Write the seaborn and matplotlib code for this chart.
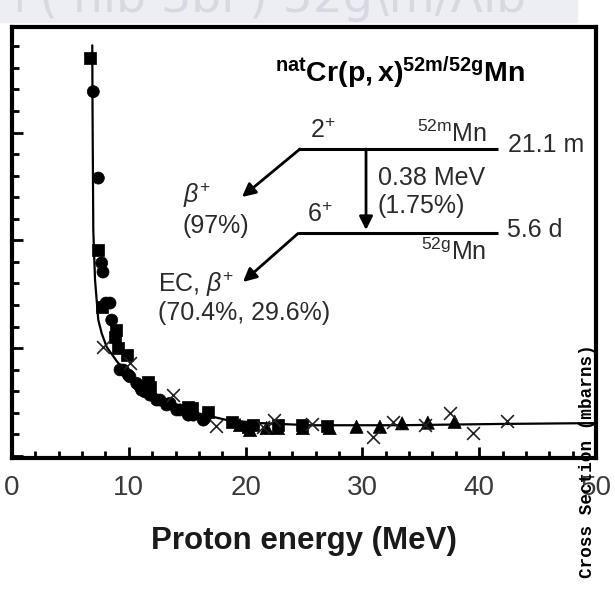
import numpy as np
import pandas as pd
import matplotlib
matplotlib.use("Agg")
import matplotlib.pyplot as plt
import seaborn as sns
from matplotlib.patches import Rectangle

# ---------------- data ----------------
sq_E = [6.68, 7.39, 7.68, 8.82, 8.9, 9.1, 9.82, 11.67, 11.82, 15.09, 15.4, 16.8,
        18.81, 20.2, 20.66, 22.8, 24.8, 26.94]
sq_y = [18.46, 9.55, 6.9, 5.53, 5.84, 4.99, 4.68, 3.44, 3.21, 2.28, 2.2, 2.05,
        1.58, 1.35, 1.43, 1.43, 1.43, 1.38]

ci_E = [6.96, 7.39, 7.68, 7.79, 8.05, 8.39, 8.54, 9.25, 9.53, 9.96, 10.1, 10.68,
        10.96, 11.1, 11.39, 11.82, 12.39, 12.67, 13.24, 13.53, 14.1, 14.38, 15.1,
        15.52, 16.38, 16.52]
ci_y = [16.9, 12.89, 8.95, 8.53, 7.09, 7.09, 6.3, 3.99, 3.98, 3.75, 3.67, 3.36,
        3.21, 3.05, 2.97, 2.82, 2.59, 2.59, 2.36, 2.44, 2.13, 2.13, 1.89,
        1.89, 1.66, 1.74]

tr_E = [19.52, 20.38, 21.8, 22.77, 24.9, 27.2, 29.5, 31.5, 33.4, 35.6, 37.9]
tr_y = [1.43, 1.2, 1.29, 1.29, 1.29, 1.29, 1.35, 1.35, 1.51, 1.54, 1.58]

x_E = [7.75, 10.1, 13.81, 17.45, 21.5, 22.4, 25.66, 30.93, 32.65, 35.36, 37.5,
       39.5, 42.35]
x_y = [5.06, 4.29, 2.82, 1.4, 1.35, 1.66, 1.48, 0.89, 1.58, 1.43, 1.97, 1.04, 1.63]

fit_E = [6.875, 6.89, 6.96, 7.11, 7.39, 7.68, 8.11, 9.08, 10.68, 12.67, 15.5,
         18.4, 21.23, 25.5, 33.2, 41.8, 50]
fit_y = [19.05, 16.51, 10.48, 8.15, 6.3, 5.68, 5.05, 4.31, 3.52, 2.73, 2.03,
         1.66, 1.52, 1.42, 1.42, 1.48, 1.52]

x_ticks = [0, 10, 20, 30, 40, 50]
x_ticklabels = ["0", "10", "20", "30", "40", "50"]

# ---------------- style ----------------
sns.set_style("ticks")
plt.rcParams["font.family"] = ["Liberation Sans", "DejaVu Sans"]
plt.rcParams["mathtext.fontset"] = "custom"
plt.rcParams["mathtext.rm"] = "Liberation Sans"
plt.rcParams["mathtext.it"] = "Liberation Sans:italic"
plt.rcParams["mathtext.bf"] = "Liberation Sans:bold"

TXT = "#2b2b2b"

fig = plt.figure(figsize=(6.15, 5.91), dpi=100)
fig.patch.set_facecolor("white")
ax = fig.add_axes([12 / 615, 1 - 458 / 591, 584 / 615, 431 / 591])

filled = pd.DataFrame({
    "E": sq_E + ci_E + tr_E,
    "sigma": sq_y + ci_y + tr_y,
    "set": ["sq"] * len(sq_E) + ["ci"] * len(ci_E) + ["tr"] * len(tr_E),
})
sizes = {"sq": 75, "ci": 75, "tr": 90}
sns.lineplot(x=fit_E, y=fit_y, sort=False, color="black", lw=1.6, ax=ax, zorder=2)
sns.scatterplot(data=filled, x="E", y="sigma", style="set",
                markers={"sq": "s", "ci": "o", "tr": "^"},
                size="set", sizes=sizes, color="black", edgecolor="black",
                linewidth=0.5, legend=False, ax=ax, zorder=3)
sns.scatterplot(x=x_E, y=x_y, marker="x", s=85, color="#222222", linewidth=1.2,
                legend=False, ax=ax, zorder=3)

ax.set_xlim(0, 50)
ax.set_ylim(-0.1, 19.9)
ax.set_xticks(x_ticks)
ax.set_xticklabels(x_ticklabels)
ax.set_xticks(np.arange(0, 51, 2), minor=True)
ax.set_yticks(np.arange(0, 20, 5))
ax.set_yticks(np.arange(0, 20, 1), minor=True)
ax.set_yticklabels([])
ax.tick_params(which="both", direction="in", top=False, right=False,
               color="black", width=2)
ax.tick_params(which="major", length=8)
ax.tick_params(which="minor", length=5)
ax.tick_params(axis="x", labelsize=20, labelcolor="#3a3a3a", pad=12)
for s in ax.spines.values():
    s.set_linewidth(3)
    s.set_color("black")
    s.set_visible(True)

ax.set_xlabel("Proton energy (MeV)", fontsize=22.5, fontweight="bold", color="#1a1a1a")
ax.xaxis.set_label_coords(0.5, -0.158)
ax.set_ylabel("")

# ---------------- annotations (axes fraction) ----------------
def t(x, y, s, **kw):
    kw.setdefault("fontsize", 18)
    kw.setdefault("color", TXT)
    ax.text(x, y, s, transform=ax.transAxes, va="baseline", **kw)

t(0.450, 0.873, r"$\mathbf{^{nat}Cr(p,x)^{52m/52g}Mn}$", fontsize=20.5, color="black")
t(0.510, 0.7425, r"2$^{+}$")
t(0.8134, 0.734, r"$^{\mathrm{52m}}$Mn", ha="right")
t(0.8493, 0.7107, "21.1 m")
t(0.2928, 0.5916, r"$\mathit{\beta}^{+}$")
t(0.2928, 0.522, "(97%)")
t(0.6267, 0.6334, "0.38 MeV")
t(0.6267, 0.5684, "(1.75%)")
t(0.5046, 0.5483, r"6$^{+}$")
t(0.8476, 0.5135, "5.6 d")
t(0.8128, 0.4594, r"$^{\mathrm{52g}}$Mn", ha="right")
t(0.2505, 0.3858, r"EC, $\mathit{\beta}^{+}$")
t(0.2505, 0.3202, "(70.4%, 29.6%)")

lvl = dict(color="black", lw=2.2, solid_capstyle="butt")
ax.plot([0.4897, 0.8322], [0.717, 0.717], transform=ax.transAxes, **lvl)
ax.plot([0.4897, 0.8322], [0.5209, 0.5209], transform=ax.transAxes, **lvl)

arr = dict(arrowstyle="-|>", lw=2.0, color="black", mutation_scale=20,
           shrinkA=0, shrinkB=0)
ax.annotate("", xy=(0.6062, 0.529), xytext=(0.6062, 0.717),
            xycoords="axes fraction", textcoords="axes fraction", arrowprops=arr)
ax.annotate("", xy=(0.3938, 0.6056), xytext=(0.4932, 0.717),
            xycoords="axes fraction", textcoords="axes fraction", arrowprops=arr)
ax.annotate("", xy=(0.3955, 0.4084), xytext=(0.4897, 0.5209),
            xycoords="axes fraction", textcoords="axes fraction", arrowprops=arr)

# ---------------- extra figure-level texts ----------------
fig.add_artist(Rectangle((0, 1 - 22 / 591), 577 / 615, 22 / 591,
                         transform=fig.transFigure, color="#eceef4", zorder=0))
fig.text(0.0, 1.0, "+( nıb 3bı ) 52g\\m/Λlb", color="#d6d9e1", fontsize=34,
         family="DejaVu Sans", va="center", ha="left", zorder=1)

fig.text(588 / 615, 1 - 461.5 / 591, "Cross Section (mbarns)", rotation=90,
         family="Liberation Mono", fontweight="bold", fontsize=12.7,
         ha="center", va="center", color="black", zorder=5)

fig.savefig("out.png", dpi=100)
